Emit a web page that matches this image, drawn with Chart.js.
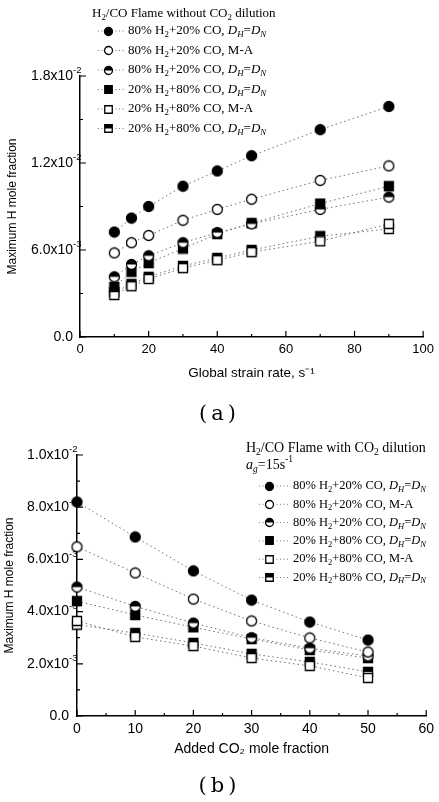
<!DOCTYPE html>
<html>
<head>
<meta charset="utf-8">
<script src="https://cdn.jsdelivr.net/npm/chart.js@4.4.1/dist/chart.umd.min.js"></script>
<style>
  html, body { margin: 0; padding: 0; background: #fff; }
  body { width: 439px; height: 802px; position: relative; overflow: hidden; }
  .box { position: absolute; left: 0; width: 439px; }
  #boxA { top: 0; height: 400px; }
  #boxB { top: 420px; height: 382px; }
  .cap { position: absolute; left: 0; width: 439px; text-align: center;
         font-family: "DejaVu Serif", serif; font-size: 21px; letter-spacing: 4px; line-height: 26px; }
</style>
</head>
<body>
<div class="box" id="boxA"><canvas id="chartA" width="439" height="400"></canvas></div>
<div class="box" id="boxB"><canvas id="chartB" width="439" height="382"></canvas></div>
<div class="cap" style="top:400px">(a)</div>
<div class="cap" style="top:772px">(b)</div>
<script>
// ---- data ----
// (a) H/CO flame without CO2 dilution, vs global strain rate
const strainRates = [10, 15, 20, 30, 40, 50, 70, 90];
const a_80H2_DHDN  = [7.24e-3, 8.2e-3, 9.0e-3, 10.4e-3, 11.45e-3, 12.5e-3, 14.3e-3, 15.9e-3];
const a_80H2_MA    = [5.8e-3, 6.5e-3, 7.0e-3, 8.05e-3, 8.8e-3, 9.5e-3, 10.8e-3, 11.8e-3];
const a_80H2_DHDN2 = [4.15e-3, 5.0e-3, 5.6e-3, 6.5e-3, 7.2e-3, 7.8e-3, 8.8e-3, 9.65e-3];
const a_20H2_DHDN  = [3.45e-3, 4.5e-3, 5.1e-3, 6.1e-3, 7.1e-3, 7.85e-3, 9.2e-3, 10.4e-3];
const a_20H2_MA    = [2.9e-3, 3.5e-3, 4.0e-3, 4.75e-3, 5.3e-3, 5.85e-3, 6.6e-3, 7.8e-3];
const a_20H2_DHDN2 = [3.1e-3, 3.65e-3, 4.15e-3, 4.9e-3, 5.45e-3, 6.0e-3, 6.95e-3, 7.45e-3];

// (b) with CO2 dilution, a_g = 15 1/s, vs added CO2 mole fraction
const co2Fractions = [0, 10, 20, 30, 40, 50];
const b_80H2_DHDN  = [8.2e-3, 6.86e-3, 5.56e-3, 4.44e-3, 3.6e-3, 2.91e-3];
const b_80H2_MA    = [6.48e-3, 5.48e-3, 4.48e-3, 3.64e-3, 2.99e-3, 2.45e-3];
const b_80H2_DHDN2 = [4.94e-3, 4.2e-3, 3.56e-3, 3.0e-3, 2.6e-3, 2.3e-3];
const b_20H2_DHDN  = [4.4e-3, 3.87e-3, 3.4e-3, 2.95e-3, 2.53e-3, 2.22e-3];
const b_20H2_MA    = [3.64e-3, 3.03e-3, 2.68e-3, 2.22e-3, 1.92e-3, 1.46e-3];
const b_20H2_DHDN2 = [3.5e-3, 3.18e-3, 2.8e-3, 2.38e-3, 2.07e-3, 1.69e-3];

// legend labels ( _x = subscript, ^{..} = superscript, $..$ = italic )
const seriesNames = [
  '80% H_2+20% CO, $D_H$=$D_N$',
  '80% H_2+20% CO, M-A',
  '80% H_2+20% CO, $D_H$=$D_N$',
  '20% H_2+80% CO, $D_H$=$D_N$',
  '20% H_2+80% CO, M-A',
  '20% H_2+80% CO, $D_H$=$D_N$'
];
const legendTitleA = ['H_2/CO Flame without CO_2 dilution'];
const legendTitleB = ['H_2/CO Flame with CO_2 dilution', '$a_g$=15s^{-1}'];

// tick values / labels
const yTicksA = [0, 0.006, 0.012, 0.018];
const yTickLabelsA = ['0.0', '6.0x10^{-3}', '1.2x10^{-2}', '1.8x10^{-2}'];
const yMinorA = [0.003, 0.009, 0.015];
const xTicksA = [0, 20, 40, 60, 80, 100];
const xMinorA = [10, 30, 50, 70, 90];

const yTicksB = [0, 0.002, 0.004, 0.006, 0.008, 0.010];
const yTickLabelsB = ['0.0', '2.0x10^{-3}', '4.0x10^{-3}', '6.0x10^{-3}', '8.0x10^{-3}', '1.0x10^{-2}'];
const yMinorB = [0.001, 0.003, 0.005, 0.007, 0.009];
const xTicksB = [0, 10, 20, 30, 40, 50, 60];
const xMinorB = [5, 15, 25, 35, 45, 55];

// marker look per series
const markerShapes = ['circle', 'circle', 'circle', 'rect', 'rect', 'rect'];
const markerFills  = ['full', 'open', 'half', 'full', 'open', 'half'];

const SANS = '"Liberation Sans", Arial, sans-serif';
const SERIF = '"Liberation Serif", "Times New Roman", serif';

function makeSymbol(shape, fill, d) {
  const s = Math.ceil(d + 3);
  const c = document.createElement('canvas');
  c.width = s; c.height = s;
  const g = c.getContext('2d');
  const m = s / 2, r = d / 2;
  const path = () => {
    g.beginPath();
    if (shape === 'circle') g.arc(m, m, r, 0, Math.PI * 2);
    else g.rect(m - r, m - r, d, d);
  };
  path();
  g.fillStyle = fill === 'full' ? '#000' : '#fff';
  g.fill();
  if (fill === 'half') {
    g.save(); path(); g.clip();
    g.fillStyle = '#000';
    g.fillRect(0, 0, s, m);
    g.restore();
  }
  path();
  g.lineWidth = 1.3;
  g.strokeStyle = '#000';
  g.stroke();
  return c;
}

function symbols(dCircle, dRect) {
  return markerShapes.map((sh, k) => makeSymbol(sh, markerFills[k], sh === 'circle' ? dCircle : dRect));
}

// tiny rich text: returns end x
function drawRich(ctx, str, x, y, size, family) {
  let italic = false, i = 0;
  while (i < str.length) {
    const ch = str[i];
    if (ch === '$') { italic = !italic; i++; continue; }
    let text, mode = 'n';
    if (ch === '_' || ch === '^') {
      mode = ch; i++;
      if (str[i] === '{') { const j = str.indexOf('}', i); text = str.slice(i + 1, j); i = j + 1; }
      else { text = str[i]; i++; }
    } else {
      let j = i;
      while (j < str.length && '$_^'.indexOf(str[j]) < 0) j++;
      text = str.slice(i, j); i = j;
    }
    const fs = mode === 'n' ? size : size * 0.68;
    const dy = mode === '_' ? size * 0.3 : mode === '^' ? -size * 0.38 : 0;
    ctx.font = (italic ? 'italic ' : '') + fs + 'px ' + family;
    ctx.fillText(text, x, y + dy);
    x += ctx.measureText(text).width;
  }
  return x;
}

function decor(cfg) {
  return {
    id: 'decor',
    afterDraw(chart) {
      const ctx = chart.ctx, xs = chart.scales.x, ys = chart.scales.y;
      const ax = xs.left, by = ys.bottom;
      ctx.save();
      // inward tick marks
      ctx.strokeStyle = '#000';
      ctx.lineWidth = 1.2;
      ctx.beginPath();
      cfg.yTicks.forEach(v => { const p = ys.getPixelForValue(v); ctx.moveTo(ax, p); ctx.lineTo(ax + 6, p); });
      cfg.yMinor.forEach(v => { const p = ys.getPixelForValue(v); ctx.moveTo(ax, p); ctx.lineTo(ax + 3, p); });
      cfg.xTicks.forEach(v => { const p = xs.getPixelForValue(v); ctx.moveTo(p, by); ctx.lineTo(p, by - 6); });
      cfg.xMinor.forEach(v => { const p = xs.getPixelForValue(v); ctx.moveTo(p, by); ctx.lineTo(p, by - 3); });
      ctx.stroke();

      // y tick labels with exponent
      ctx.fillStyle = '#000';
      ctx.textBaseline = 'middle';
      ctx.textAlign = 'left';
      cfg.yTicks.forEach((v, i) => {
        const lab = cfg.yLabels[i];
        const man = lab.split('^')[0];
        ctx.font = cfg.tickSize + 'px ' + SANS;
        const w = ctx.measureText(man).width;
        drawRich(ctx, lab, ax - cfg.labelGap - w, ys.getPixelForValue(v), cfg.tickSize, SANS);
      });

      // legend
      let y = cfg.legTitleY;
      cfg.legTitle.forEach(t => {
        drawRich(ctx, t, cfg.legTitleX, y, cfg.legTitleSize, SERIF);
        y += cfg.legTitleGap;
      });
      seriesNames.forEach((name, k) => {
        const ry = cfg.legRowY + k * cfg.legRowGap;
        ctx.save();
        ctx.strokeStyle = '#777';
        ctx.lineWidth = 1;
        ctx.setLineDash([1, 2.5]);
        ctx.beginPath();
        ctx.moveTo(cfg.legSymX - 10, ry);
        ctx.lineTo(cfg.legTextX - 4, ry);
        ctx.stroke();
        ctx.restore();
        const img = cfg.legSyms[k];
        ctx.drawImage(img, Math.round(cfg.legSymX - img.width / 2), Math.round(ry - img.height / 2));
        drawRich(ctx, name, cfg.legTextX, ry, cfg.legSize, SERIF);
      });
      ctx.restore();
    }
  };
}

function makeChart(id, xs, series, o) {
  const pts = symbols(10, 9);
  const datasets = series.map((vals, k) => ({
    label: seriesNames[k],
    data: xs.map((x, i) => ({ x: x, y: vals[i] })),
    showLine: true,
    borderColor: '#6e6e6e',
    borderWidth: 1,
    borderDash: [1.5, 3],
    pointStyle: pts[k],
    clip: false
  }));
  return new Chart(document.getElementById(id), {
    type: 'scatter',
    data: { datasets: datasets },
    options: {
      responsive: false,
      animation: false,
      events: [],
      layout: { padding: o.padding },
      plugins: { legend: { display: false }, tooltip: { enabled: false } },
      scales: {
        x: {
          type: 'linear', min: o.xMin, max: o.xMax,
          grid: { display: false, drawTicks: false },
          border: { display: true, color: '#000', width: 1.5 },
          ticks: { stepSize: o.xStep, autoSkip: false, maxRotation: 0, color: '#000',
                   padding: o.xTickPad, font: { family: SANS, size: o.xTickSize } },
          title: { display: true, text: o.xTitle, color: '#000',
                   font: { family: SANS, size: o.xTitleSize }, padding: { top: 0, bottom: o.xTitlePad } },
          afterFit: s => { s.height = o.xHeight; }
        },
        y: {
          type: 'linear', min: o.yMin, max: o.yMax,
          grid: { display: false, drawTicks: false },
          border: { display: true, color: '#000', width: 1.5 },
          ticks: { display: false },
          title: { display: true, text: 'Maximum H mole fraction', color: '#000',
                   font: { family: SANS, size: 12 }, padding: { top: o.yTitlePad, bottom: 0 } },
          afterFit: s => { s.width = o.yWidth; }
        }
      }
    },
    plugins: [decor(o.decor)]
  });
}

makeChart('chartA', strainRates,
  [a_80H2_DHDN, a_80H2_MA, a_80H2_DHDN2, a_20H2_DHDN, a_20H2_MA, a_20H2_DHDN2], {
    padding: { top: 76, right: 12, bottom: 0, left: 0 },
    xMin: 0, xMax: 100, xStep: 20, yMin: 0, yMax: 0.018,
    xTickPad: 5, xTickSize: 13, xTitle: 'Global strain rate, s\u207B\u00B9', xTitleSize: 13.5, xTitlePad: 19,
    xHeight: 63, yWidth: 80, yTitlePad: 5,
    decor: {
      yTicks: yTicksA, yLabels: yTickLabelsA, yMinor: yMinorA, xTicks: xTicksA, xMinor: xMinorA,
      tickSize: 14, labelGap: 7,
      legTitle: legendTitleA, legTitleX: 92, legTitleY: 14, legTitleSize: 13, legTitleGap: 17,
      legRowY: 31, legRowGap: 19.5, legSymX: 108, legTextX: 128, legSize: 13,
      legSyms: symbols(8, 7.5)
    }
  });

makeChart('chartB', co2Fractions,
  [b_80H2_DHDN, b_80H2_MA, b_80H2_DHDN2, b_20H2_DHDN, b_20H2_MA, b_20H2_DHDN2], {
    padding: { top: 35, right: 6, bottom: 0, left: 0 },
    xMin: 0, xMax: 60, xStep: 10, yMin: 0, yMax: 0.010,
    xTickPad: 5, xTickSize: 14, xTitle: 'Added CO\u2082 mole fraction', xTitleSize: 14, xTitlePad: 44,
    xHeight: 86, yWidth: 77, yTitlePad: 2,
    decor: {
      yTicks: yTicksB, yLabels: yTickLabelsB, yMinor: yMinorB, xTicks: xTicksB, xMinor: xMinorB,
      tickSize: 14, labelGap: 8,
      legTitle: legendTitleB, legTitleX: 246, legTitleY: 28, legTitleSize: 14, legTitleGap: 17,
      legRowY: 66, legRowGap: 18.3, legSymX: 269, legTextX: 293, legSize: 12.5,
      legSyms: symbols(8, 7.5)
    }
  });
</script>
</body>
</html>
